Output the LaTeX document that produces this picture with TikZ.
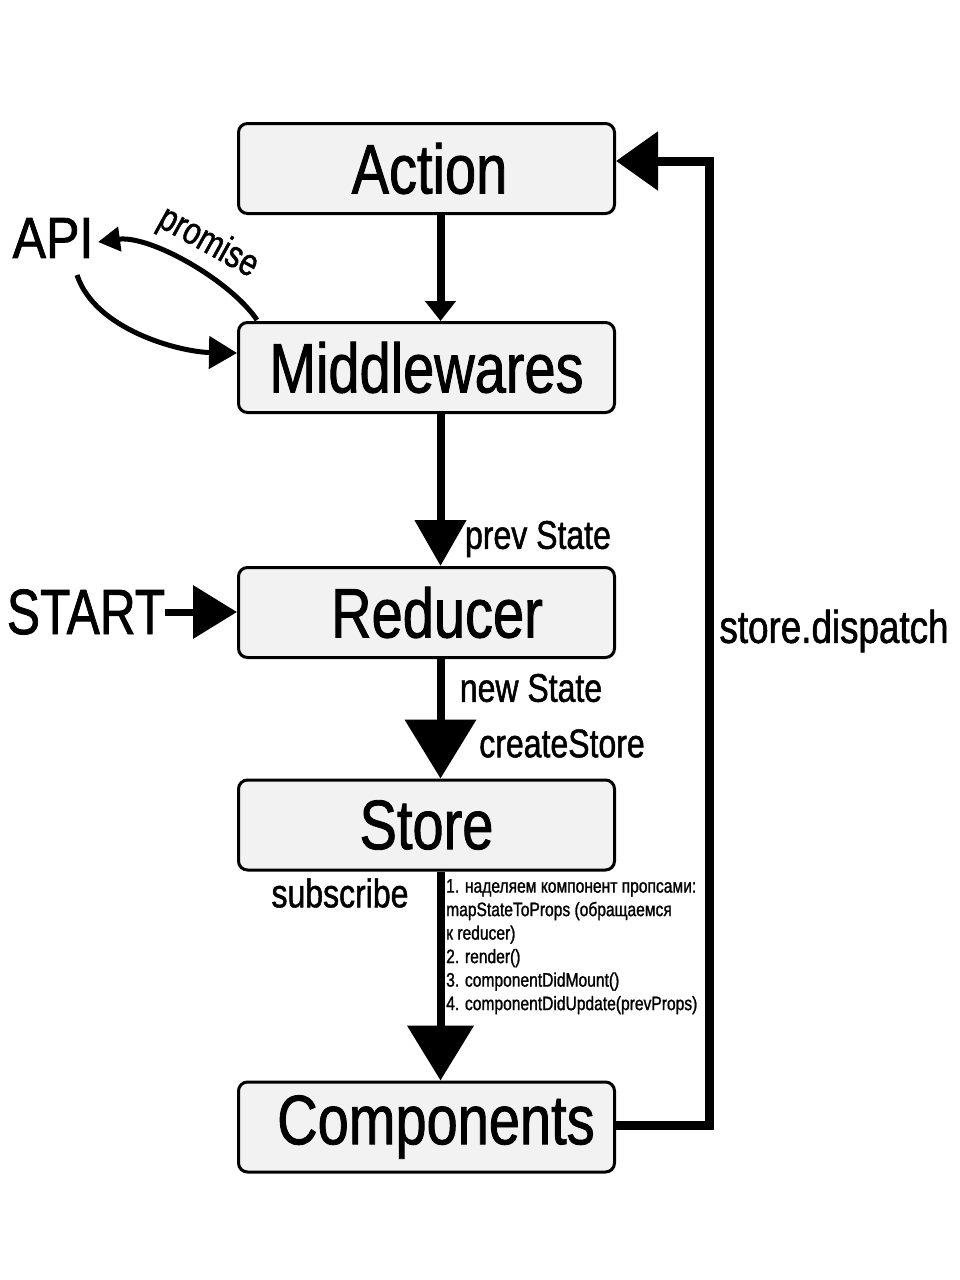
\documentclass[tikz,border=0pt]{standalone}
\usepackage{fontspec}
\setmainfont{Liberation Sans}[FakeStretch=0.8, FakeBold=1.2]
\usetikzlibrary{arrows.meta}
\definecolor{boxfill}{RGB}{242,242,242}
\begin{document}
\begin{tikzpicture}[x=1pt,y=-1pt,
  box/.style={draw, line width=3pt, rounded corners=9pt, fill=boxfill,
    minimum width=376pt, minimum height=90pt, inner sep=0pt,
    font=\fontsize{70}{80}\selectfont},
  lbl/.style={inner sep=0pt, font=\fontsize{40}{46}\selectfont},
  big/.style={inner sep=0pt},
  flow/.style={line width=8pt}
]
\useasboundingbox (0,0) rectangle (960,1280);

% boxes
\node[box] (action) at (426.5,168.5) {\hspace{6pt}Action};
\node[box] (middle) at (426.5,367.5) {Middlewares};
\node[box] (reducer) at (426.5,612.5) {\hspace{21pt}Reducer};
\node[box] (store) at (426.5,825) {Store};
\node[box] (comp) at (426.5,1127) {\hspace{19pt}Components};

% side texts
\node[big, font=\fontsize{58}{62}\selectfont] (api) at (53,238) {\scalebox{1.08}[1]{API}};
\node[big, font=\fontsize{64}{70}\selectfont] (start) at (86,612) {\scalebox{0.97}[1]{START}};

\node[lbl] (prev) at (538,539) {prev State};
\node[lbl] (new) at (531,688) {new State};
\node[lbl] (create) at (562,743.5) {createStore};
\node[lbl] (subs) at (340,893) {subscribe};
\node[lbl, font=\fontsize{46}{50}\selectfont] (disp) at (834,631) {store.dispatch};
\node[inner sep=0pt, rotate=-29, font=\fontsize{38}{44}\selectfont] (prom) at (208,243) {promise};

\node[inner sep=0pt, anchor=north west, align=left,
  font=\fontsize{19.5}{23.5}\selectfont] (list) at (446,879)
  {1. наделяем компонент пропсами:\\
   mapStateToProps (обращаемся\\
   к reducer)\\
   2. render()\\
   3. componentDidMount()\\
   4. componentDidUpdate(prevProps)};

% vertical flow arrows
\draw[flow, -{Triangle[length=20pt,width=30pt]}]
  ([xshift=14pt]action.south) -- ([xshift=14pt]middle.north);
\draw[flow, -{Triangle[length=46pt,width=50pt]}]
  ([xshift=14pt]middle.south) -- ([xshift=14pt]reducer.north);
\draw[flow, -{Triangle[length=59pt,width=70pt]}]
  ([xshift=14pt]reducer.south) -- ([xshift=14pt]store.north);
\draw[flow, -{Triangle[length=55pt,width=65pt]}]
  ([xshift=14pt]store.south) -- ([xshift=14pt]comp.north);

% feedback loop
\coordinate (fbtop) at (709.5,161);
\coordinate (fbbot) at (709.5,1125);
\draw[line width=9pt, -{Triangle[length=42pt,width=57pt]}]
  (comp.east |- fbbot) -- (fbbot) -- (fbtop) -- (action.east |- fbtop);

% START arrow
\draw[line width=7pt, -{Triangle[length=44pt,width=52pt]}]
  (start.east) -- (reducer.west |- start);

% API curves
\coordinate (apiout) at (77,275);
\coordinate (apiin) at (98,242);
\coordinate (mwtop) at (257,320);
\coordinate (mwleft) at (237,353);
\draw[line width=5pt, -{Triangle[length=28pt,width=32pt]}]
  (apiout) .. controls (95,330) and (180,352) .. (mwleft);
\draw[line width=5pt, -{Triangle[length=22pt,width=24pt]}]
  (mwtop) .. controls (230,280) and (150,235) .. (apiin);
\end{tikzpicture}
\end{document}
